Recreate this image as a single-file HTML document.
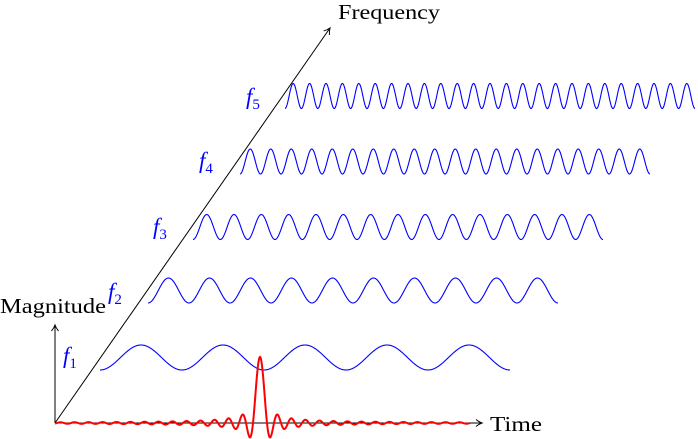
<!DOCTYPE html>
<html><head><meta charset="utf-8"><style>
html,body{margin:0;padding:0;background:#fff;width:698px;height:439px;overflow:hidden}
svg{display:block}
text{font-family:"Liberation Serif",serif}
</style></head><body>
<svg id="s" width="698" height="439" viewBox="0 0 698 439" xmlns="http://www.w3.org/2000/svg">
<defs><marker id="a" markerWidth="10" markerHeight="10" refX="8" refY="5" orient="auto" markerUnits="userSpaceOnUse"><path d="M2,1.5 Q5,4 8,5 Q5,6 2,8.5" fill="none" stroke="#000" stroke-width="1"/></marker></defs>
<line x1="55" y1="423" x2="482" y2="423" stroke="#000" stroke-width="1" marker-end="url(#a)"/>
<line x1="55" y1="423" x2="55" y2="325" stroke="#000" stroke-width="1" marker-end="url(#a)"/>
<line x1="55" y1="423" x2="330" y2="28" stroke="#000" stroke-width="1" marker-end="url(#a)"/>
<g id="w" fill="none" stroke="#00f" stroke-width="1.1"></g>
<path id="r" fill="none" stroke="#f00" stroke-width="2"/>
<text x="338" y="19" font-size="21" textLength="102" lengthAdjust="spacingAndGlyphs">Frequency</text>
<text x="490" y="431" font-size="21" textLength="52" lengthAdjust="spacingAndGlyphs">Time</text>
<text x="0" y="313" font-size="21" textLength="106" lengthAdjust="spacingAndGlyphs">Magnitude</text>
<g fill="#00f" font-size="23" font-style="italic">
<text x="63" y="363">f<tspan font-size="15" font-style="normal" dy="5">1</tspan></text>
<text x="108" y="299">f<tspan font-size="15" font-style="normal" dy="5">2</tspan></text>
<text x="153" y="234">f<tspan font-size="15" font-style="normal" dy="5">3</tspan></text>
<text x="199" y="168">f<tspan font-size="15" font-style="normal" dy="5">4</tspan></text>
<text x="246" y="104">f<tspan font-size="15" font-style="normal" dy="5">5</tspan></text>
</g>
</svg>
<script>
var g=document.getElementById('w');
var W=[[100,357.5,1],[148,290.5,2],[193,227,3],[240,161.5,4],[285,96,5]];
W.forEach(function(w){var d='';for(var i=0;i<=820;i++){var x=w[0]+i*0.5;var y=w[1]+12.5*Math.cos(2*Math.PI*5*w[2]*(x-w[0])/410);d+=(i?'L':'M')+x.toFixed(2)+','+y.toFixed(2);}
var p=document.createElementNS('http://www.w3.org/2000/svg','path');p.setAttribute('d',d);g.appendChild(p);});
var d='',k=Math.PI/7;for(var x=55;x<=470;x+=0.5){var t=k*(x-260);var s=Math.abs(t)<1e-6?1:Math.sin(t)/t;var y=423-66*s;d+=(x==55?'M':'L')+x+','+y.toFixed(2);}
document.getElementById('r').setAttribute('d',d);
</script>
</body></html>
